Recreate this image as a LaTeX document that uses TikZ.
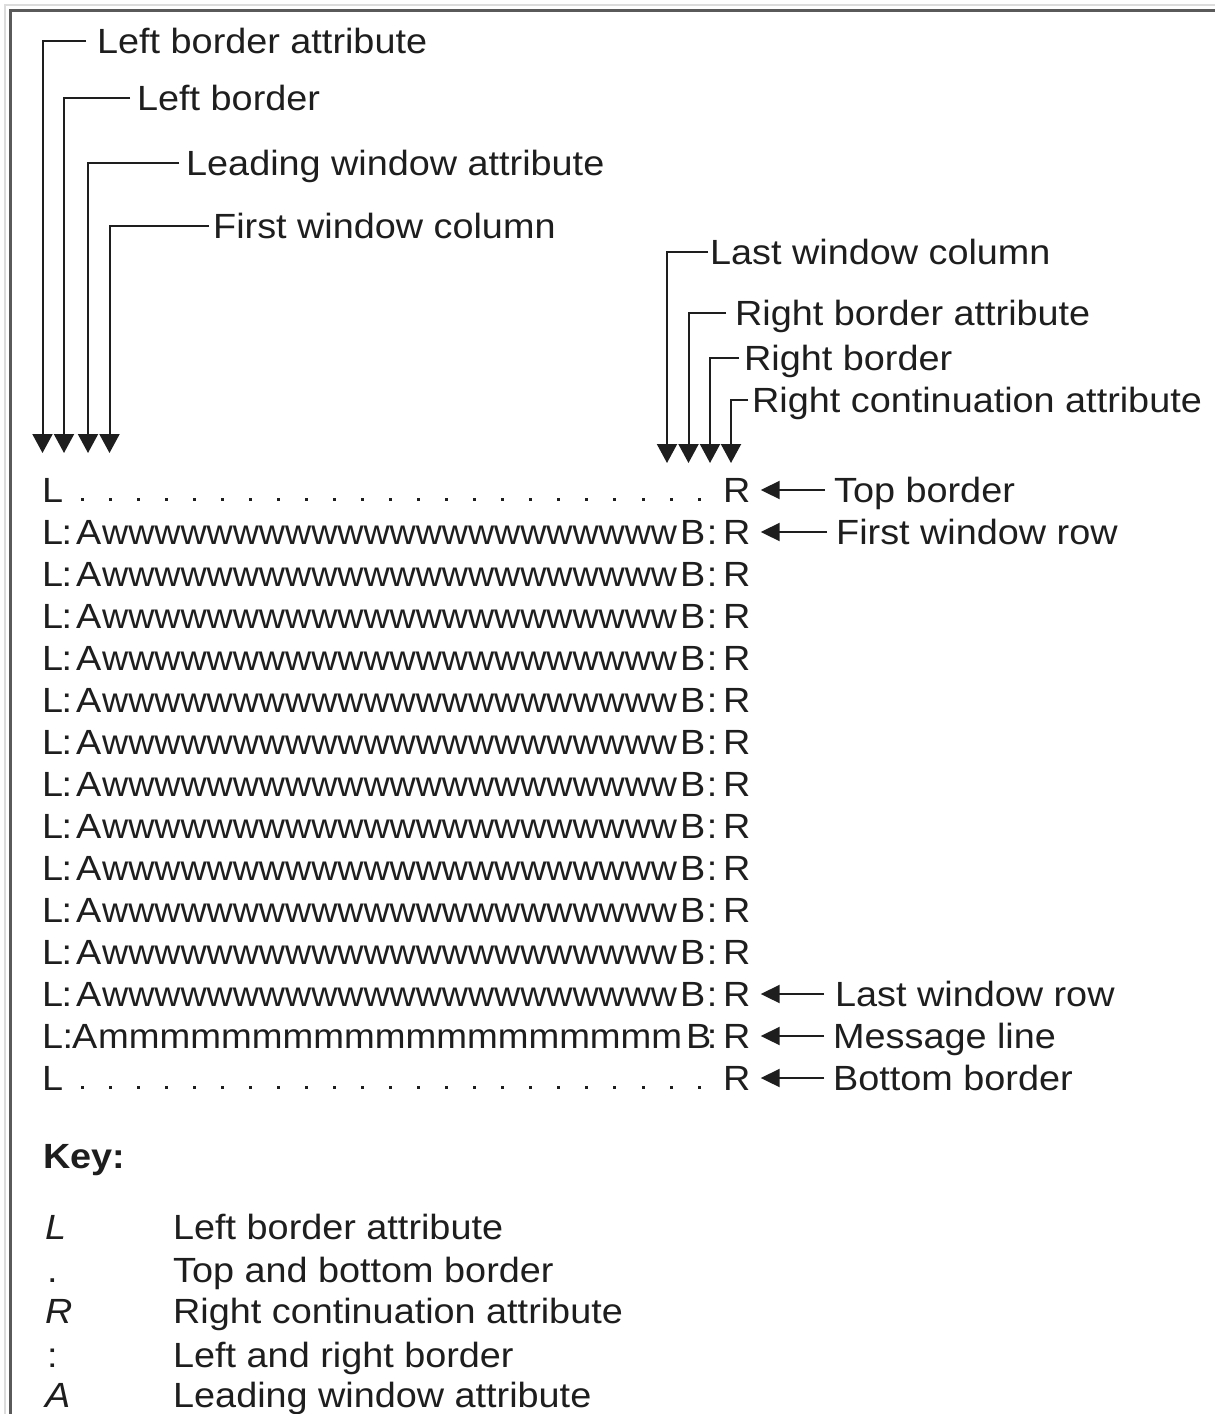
\documentclass[tikz,border=0pt]{standalone}
\usepackage{graphicx}
\usepackage{fontspec}
\setmainfont{Liberation Sans}[FakeStretch=1.08]
\usetikzlibrary{arrows.meta}
\definecolor{txt}{HTML}{1E1E1E}
\definecolor{frameL}{HTML}{DCDCDC}
\definecolor{frameD}{HTML}{5A5A5A}
\newcommand{\labfont}{\fontsize{35}{42}\selectfont}
\begin{document}
\begin{tikzpicture}[x=1pt,y=-1pt,
  lbl/.style={anchor=west, inner sep=0pt, text height=24pt, text depth=0pt, font=\labfont, text=txt},
  ch/.style={anchor=base west, inner sep=0pt, text height=24pt, text depth=0pt, font=\labfont, text=txt},
  chc/.style={ch, anchor=base},
  varr/.style={line width=2pt, draw=txt, -{Triangle[width=20pt,length=19pt]}},
  harr/.style={line width=2pt, draw=txt, -{Triangle[width=18pt,length=19pt]}},
  dotmark/.style={fill=txt}
]
\useasboundingbox (0,0) rectangle (1215,1414);
\fill[white] (0,0) rectangle (1215,1414);
% frame
\draw[frameL, line width=2pt] (5,1414) -- (5,5) -- (1215,5);
\draw[frameD, line width=3pt] (10.5,1414) -- (10.5,10.5) -- (1215,10.5);

% column arrow tips
\coordinate (tl1) at (42.5,453);
\coordinate (tl2) at (64,453);
\coordinate (tl3) at (88,453);
\coordinate (tl4) at (109.5,453);
\coordinate (tr1) at (667,463);
\coordinate (tr2) at (688.5,463);
\coordinate (tr3) at (710,463);
\coordinate (tr4) at (731,463);

% top-left labels
\node[lbl] (lba) at (97,41) {Left border attribute};
\node[lbl] (lb) at (137,98) {Left border};
\node[lbl] (lwa) at (186,163) {Leading window attribute};
\node[lbl] (fwc) at (213,226) {First window column};
\draw[varr] ([xshift=-11pt]lba.west) -| (tl1);
\draw[varr] ([xshift=-7pt]lb.west) -| (tl2);
\draw[varr] ([xshift=-7pt]lwa.west) -| (tl3);
\draw[varr] ([xshift=-4pt]fwc.west) -| (tl4);

% top-right labels
\node[lbl] (lwc) at (710,252) {Last window column};
\node[lbl] (rba) at (735,313) {Right border attribute};
\node[lbl] (rb) at (744,358) {Right border};
\node[lbl] (rca) at (752,400) {Right continuation attribute};
\draw[varr] ([xshift=-2pt]lwc.west) -| (tr1);
\draw[varr] ([xshift=-9pt]rba.west) -| (tr2);
\draw[varr] ([xshift=-5pt]rb.west) -| (tr3);
\draw[varr] ([xshift=-4pt]rca.west) -| (tr4);

% rows: L and R on every row
\foreach \i in {0,...,14}{
  \pgfmathsetmacro\b{502+42*\i}
  \node[ch] (L\i) at (42,\b) {L};
  \node[ch] (R\i) at (723,\b) {R};
}
% top and bottom border dots
\foreach \k in {0,...,22}{
  \fill[dotmark] ({82+28.05*\k-1.5},498) rectangle +(3,3);
  \fill[dotmark] ({82+28.05*\k-1.5},1086) rectangle +(3,3);
}
% window rows
\foreach \i in {1,...,12}{
  \pgfmathsetmacro\b{502+42*\i}
  \node[chc] (ca\i) at (67,\b) {:};
  \node[ch] (A\i) at (76,\b) {A};
  \node[ch] (W\i) at (102,\b) {\resizebox{575pt}{\height}{wwwwwwwwwwwwwwwwwwwwww}};
  \node[ch] (B\i) at (680,\b) {B};
  \node[chc] (cb\i) at (712,\b) {:};
}
% message line
\node[chc] (ca13) at (68,1048) {:};
\node[ch] (A13) at (72,1048) {A};
\node[ch] (M13) at (98,1048) {\resizebox{584pt}{\height}{mmmmmmmmmmmmmmmmmmm}};
\node[ch] (B13) at (686,1048) {B};
\node[chc] (cb13) at (712,1048) {:};

% row labels
\node[lbl] (tb) at (834,490) {Top border};
\node[lbl] (fwr) at (836,532) {First window row};
\node[lbl] (lwr) at (835,994) {Last window row};
\node[lbl] (ml) at (833,1036) {Message line};
\node[lbl] (bb) at (833,1078) {Bottom border};
\draw[harr] ([xshift=-9pt]tb.west) -- ([xshift=10pt]R0.east);
\draw[harr] ([xshift=-9pt]fwr.west) -- ([xshift=10pt]R1.east);
\draw[harr] ([xshift=-11pt]lwr.west) -- ([xshift=10pt]R12.east);
\draw[harr] ([xshift=-9pt]ml.west) -- ([xshift=10pt]R13.east);
\draw[harr] ([xshift=-9pt]bb.west) -- ([xshift=10pt]R14.east);

% key
\node[ch] (key) at (43,1168) {\bfseries Key:};
\node[ch] (kL) at (45,1239) {\itshape L};
\node[ch] (kD) at (47,1282) {.};
\node[ch] (kR) at (45,1323) {\itshape R};
\node[ch] (kC) at (47,1367) {:};
\node[ch] (kA) at (45,1407) {\itshape A};
\node[ch] (dL) at (173,1239) {Left border attribute};
\node[ch] (dD) at (173,1282) {Top and bottom border};
\node[ch] (dR) at (173,1323) {Right continuation attribute};
\node[ch] (dC) at (173,1367) {Left and right border};
\node[ch] (dA) at (173,1407) {Leading window attribute};
\end{tikzpicture}
\end{document}
